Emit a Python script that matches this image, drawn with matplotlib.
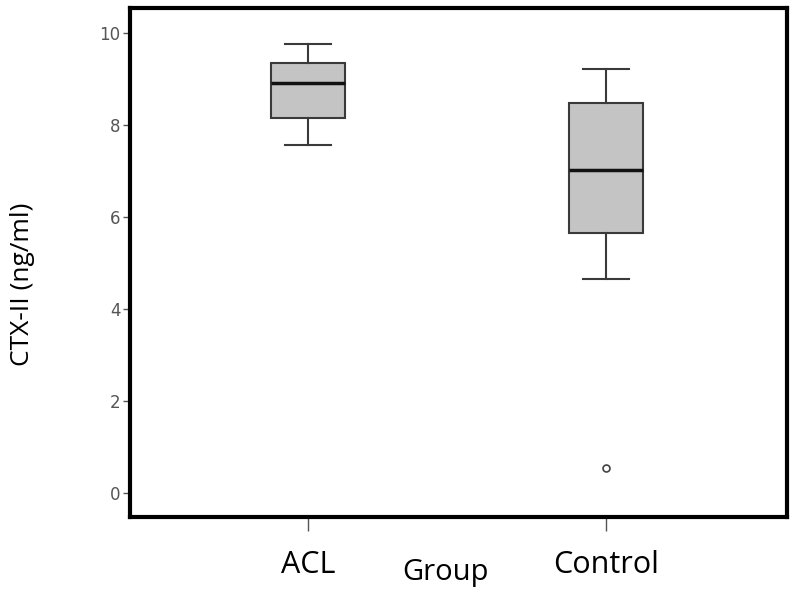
import matplotlib.pyplot as plt

# Box plot statistics (CTX-II, ng/ml)
groups = ['ACL', 'Control']
whisker_low = [7.57, 4.65]
q1 = [8.15, 5.65]
median = [8.91, 7.02]
q3 = [9.35, 8.48]
whisker_high = [9.76, 9.22]
outliers = [[], [0.54]]

stats = []
for i, g in enumerate(groups):
    stats.append({'label': g, 'whislo': whisker_low[i], 'q1': q1[i], 'med': median[i],
                  'q3': q3[i], 'whishi': whisker_high[i], 'fliers': outliers[i]})

fig = plt.figure(figsize=(8, 5.95), dpi=100)
ax = fig.add_axes([0.1625, 0.131, 0.8215, 0.8556])

ax.bxp(stats, positions=[1, 2], widths=0.25, patch_artist=True,
       boxprops=dict(facecolor='#c4c4c4', edgecolor='#3a3a3a', linewidth=1.5),
       medianprops=dict(color='#111111', linewidth=2.5),
       whiskerprops=dict(color='#3a3a3a', linewidth=1.5),
       capprops=dict(color='#3a3a3a', linewidth=1.5),
       capwidths=0.155,
       flierprops=dict(marker='o', markersize=5, markerfacecolor='white',
                       markeredgecolor='#444444', markeredgewidth=1.2))

ax.set_xlim(0.403, 2.607)
ax.set_ylim(-0.52, 10.54)
ax.set_yticks([0, 2, 4, 6, 8, 10])

for s in ax.spines.values():
    s.set_linewidth(3)
    s.set_color('black')

ax.tick_params(axis='y', colors='#555555', labelsize=12, length=5, width=1, pad=2)
ax.tick_params(axis='x', colors='#555555', length=10, width=1, pad=14,
               labelsize=22, labelcolor='black')
for lbl in ax.get_xticklabels():
    lbl.set_fontfamily('Open Sans')

ax.set_ylabel('CTX-II (ng/ml)', fontsize=19, family='Open Sans')
ax.yaxis.set_label_coords(-0.145, 0.458)
ax.set_xlabel('Group', fontsize=21, family='Open Sans')
ax.xaxis.set_label_coords(0.48, -0.08)

fig.savefig('out.png', dpi=100)
